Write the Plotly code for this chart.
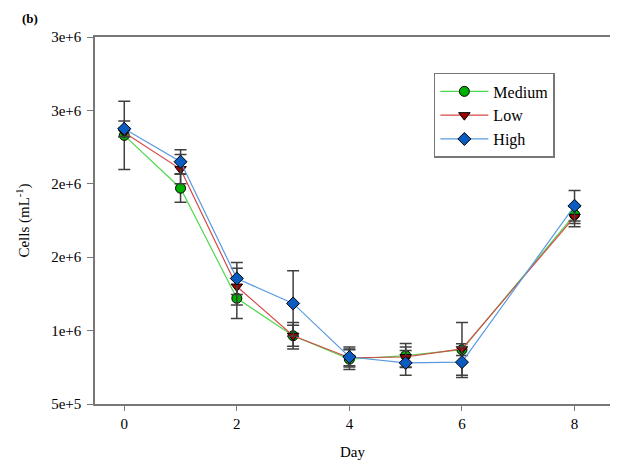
import plotly.graph_objects as go

# values (cells per mL)
days = [0, 1, 2, 3, 4, 5, 6, 8]

medium = [2.33e6, 1.97e6, 1.22e6, 0.965e6, 0.805e6, 0.83e6, 0.87e6, 1.79e6]
medium_err = [0.232e6, 0.095e6, 0.138e6, 0.072e6, 0.07e6, 0.082e6, 0.04e6, 0.06e6]

low = [2.35e6, 2.10e6, 1.30e6, 0.965e6, 0.815e6, 0.82e6, 0.875e6, 1.775e6]
low_err = [0.03e6, 0.10e6, 0.125e6, 0.09e6, 0.055e6, 0.068e6, 0.18e6, 0.068e6]

high = [2.375e6, 2.15e6, 1.355e6, 1.185e6, 0.82e6, 0.78e6, 0.785e6, 1.85e6]
high_err = [0.052e6, 0.082e6, 0.109e6, 0.223e6, 0.068e6, 0.084e6, 0.105e6, 0.104e6]

ytick_vals = [0.5e6, 1.0e6, 1.5e6, 2.0e6, 2.5e6, 3.0e6]
ytick_text = ["5e+5", "1e+6", "2e+6", "2e+6", "3e+6", "3e+6"]

serif = "Times New Roman, Liberation Serif, serif"

series = [
    ("Medium", medium, medium_err, "#4fd84f", "#00b000", "circle"),
    ("Low", low, low_err, "#d44a4a", "#a00000", "triangle-down"),
    ("High", high, high_err, "#5a9ae0", "#0a5cc0", "diamond"),
]

fig = go.Figure()
for name, vals, errs, line_col, fill_col, sym in series:
    fig.add_trace(go.Scatter(
        x=days, y=vals, name=name, mode="lines+markers",
        line=dict(color=line_col, width=1.2),
        marker=dict(symbol=sym, size=10, color=fill_col,
                    line=dict(color="black", width=1)),
        error_y=dict(type="data", array=errs, visible=True,
                     color="#404040", thickness=1.5, width=6),
    ))

fig.add_annotation(text="<b>(b)</b>", xref="paper", yref="paper",
                   x=-0.126, y=1.075, showarrow=False, xanchor="center",
                   font=dict(family=serif, size=13, color="black"))

fig.update_layout(
    width=602, height=457,
    margin=dict(l=87, r=0, t=29, b=61),
    paper_bgcolor="white", plot_bgcolor="white",
    font=dict(family=serif, size=14, color="black"),
    showlegend=True,
    legend=dict(x=0.658, y=0.902, xanchor="left", yanchor="top",
                bordercolor="#777777", borderwidth=1.5,
                font=dict(family=serif, size=16),
                itemwidth=48, tracegroupgap=0),
    xaxis=dict(range=[-0.52, 8.63], tickvals=[0, 2, 4, 6, 8],
               showgrid=False, zeroline=False,
               showline=True, linecolor="#777777", linewidth=1.5, mirror=True,
               ticks="outside", ticklen=5, tickcolor="#777777",
               tickfont=dict(family=serif, size=15),
               title=dict(text="Day", standoff=16,
                          font=dict(family=serif, size=15))),
    yaxis=dict(range=[0.5e6, 3.0e6], tickvals=ytick_vals, ticktext=ytick_text,
               showgrid=False, zeroline=False,
               showline=True, linecolor="#777777", linewidth=1.5,
               ticks="outside", ticklen=6, tickcolor="#777777",
               ticklabelstandoff=3,
               tickfont=dict(family=serif, size=15),
               title=dict(text="Cells (mL<sup>-1</sup>)", standoff=18,
                          font=dict(family=serif, size=15))),
)

fig.write_html("out.html")
